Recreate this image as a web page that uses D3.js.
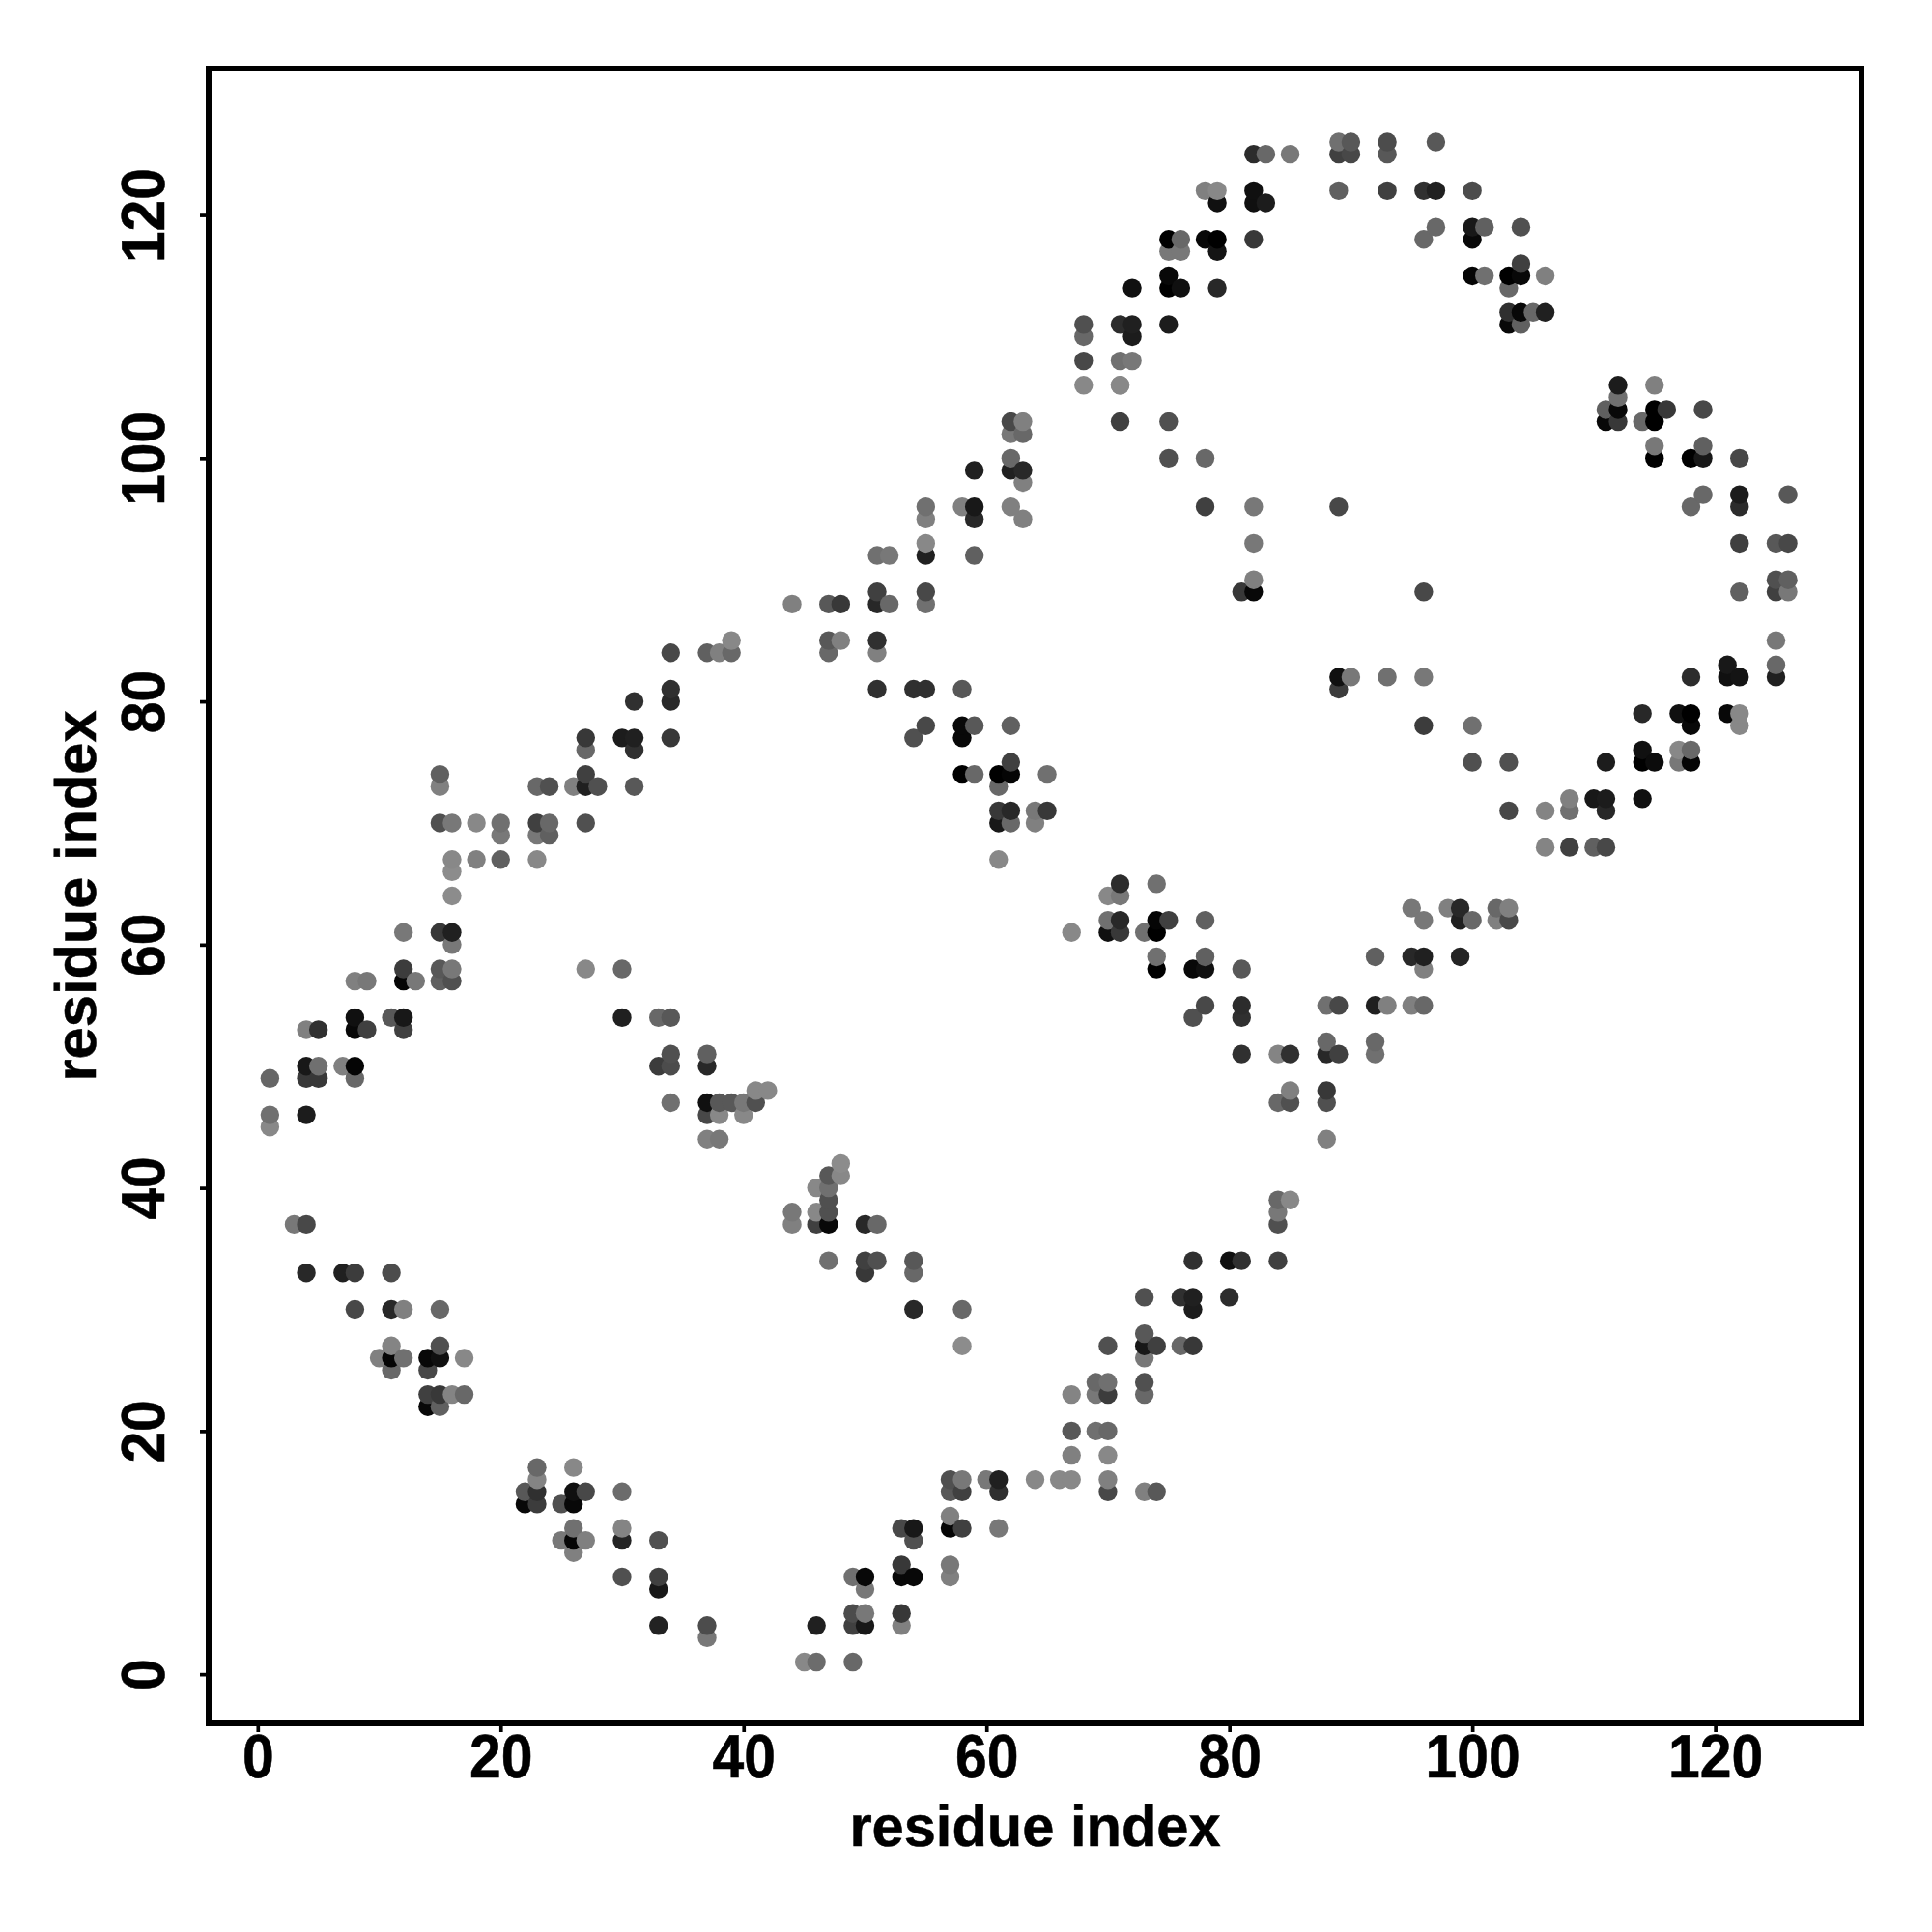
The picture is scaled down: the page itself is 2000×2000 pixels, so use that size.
<!DOCTYPE html>
<html>
<head>
<meta charset="utf-8">
<script src="https://cdnjs.cloudflare.com/ajax/libs/d3/7.8.5/d3.min.js"></script>
<style>html,body{margin:0;padding:0;background:#fff}svg{display:block}</style>
</head>
<body>
<script>
const tickValues = [0, 20, 40, 60, 80, 100, 120];
const axisTitle = "residue index";

const residueI = [
 1,1,1,4,4,4,5,5,7,8,8,
 3,4,4,7,8,11,8,11,12,15,
 11,10,11,12,11,15,14,15,17,14,
 14,15,16,17,14,15,
 23,23,22,23,22,23,
 26,26,27,25,26,
 26,25,26,27,26,
 30,30,30,33,30,33,33,33,37,37,
 33,34,37,34,37,38,39,40,41,41,42,37,38,40,37,38,34,37,
 44,44,46,47,48,48,47,47,46,47,46,47,50,51,
 47,50,51,50,54,54,54,58,58,
 45,46,49,46,49,50,49,50,49,50,50,53,53,
 53,53,54,53,54,54,57,57,57,57,58,61,
 57,58,57,58,60,61,61,64,66,67,70,70,73,74,
 67,70,67,69,70,67,69,70,69,70,73,73,
 70,73,73,74,73,76,77,73,76,77,77,80,
 77,80,81,84,84,84,84,85,
 85,85,84,88,88,88,
 39,34,37,38,39,34,34,31,27,27,30,31,31,34,
 15,15,27,23,24,26,27,28,31,
 15,16,18,20,20,23,24,23,24,27,
 16,16,18,20,23,16,
 12,15,16,16,12,15,16,15,16,8,9,12,13,27,30,
 8,8,9,11,12,12,4,5,30,33,34,
 68,71,62,63,62,63,71,75,75,78,78,82,89,82,82,81,82,
 62,59,62,63,63,55,55,58,59,59,62,63,
 55,55,51,52,59,51,55,44,47,48,51,52,55,
 47,48,51,47,51,51,54,55,58,
 55,54,58,59,58,62,
 58,59,61,62,62,61,65,
 61,62,64,65,61,62,64,61,
 71,74,70,71,70,71,74,75,78,
 67,70,71,73,74,74,74,78,77,78,81,
 78,77,81,81,88,89,81,84,85,88,88,89,89,89,90,
 89,90,89,90,93,93,97,82,83,85,
 78,79,79,82,82,83,89,93,96,97,100,
 97,96,100,101,100,104,
 75,76,75,76,78,79,79,82,
 75,75,76,72,79,100,101,104,103,104,103,106,
 103,104,105,106,103,104,68,68,71,72,72,75,68,71,72,71,
 112,115,112,111,112,115,116,119,111,112,114,115,
 115,119,115,118,119,122,
 119,122,126,118,122,122,125,126,
 96,122,125,126,125,126,125,125,125,
 93,96,118,121,121,122,
 96,100,114,117,118,118,121,122,122,
 100,103,111,114,114,115,117,118,117,118,
 103,106,108,108,110,111,111,114,
 106,108,110,111,
 95,96,98,99,99,100,102,103,102,103,
 92,95,96,96,99,
 92,93,95,96,92,92
];
const residueJ = [
 49,46,45,46,50,49,49,50,50,50,49,
 37,37,33,33,33,33,30,30,30,30,
 27,26,26,26,25,27,26,26,26,25,
 23,23,23,23,22,22,
 17,16,15,15,14,14,
 17,15,15,14,14,
 12,11,11,11,10,
 15,12,11,11,8,8,7,4,4,3,
 50,50,50,47,47,47,47,47,47,48,48,46,46,46,44,44,51,51,
 38,37,40,41,42,41,40,39,38,38,37,37,37,37,
 34,34,34,33,34,33,30,30,27,
 1,1,1,4,5,5,4,4,8,8,7,5,4,
 9,8,8,12,12,11,9,8,13,12,12,12,
 16,16,15,15,16,16,15,16,16,16,16,15,15,15,
 18,18,20,20,20,23,24,24,23,23,24,23,
 27,28,27,27,26,27,27,31,31,31,30,31,
 34,34,34,34,37,38,39,39,
 48,47,47,48,47,44,
 85,84,84,84,84,81,80,80,77,76,77,77,76,77,
 74,73,74,73,73,73,73,73,73,
 70,70,70,70,69,70,70,69,69,70,
 67,66,67,67,67,64,
 61,61,61,60,58,58,58,57,57,57,57,57,57,58,58,
 54,53,53,54,54,53,53,53,54,54,54,
 106,106,103,103,102,102,103,103,100,100,96,96,96,93,90,89,89,
 100,99,99,99,98,96,95,96,96,95,96,95,
 93,92,92,92,92,89,89,88,88,88,88,88,88,
 85,85,85,84,84,81,81,81,81,
 78,77,78,78,77,78,
 74,74,74,74,75,73,74,
 71,71,71,71,70,70,70,67,
 65,65,64,64,62,62,62,62,62,
 61,61,61,61,61,59,58,59,58,58,58,
 55,54,55,54,55,55,51,51,51,52,51,51,82,81,82,
 126,126,125,125,126,125,126,125,125,125,
 122,122,121,122,121,121,122,122,122,122,122,
 119,118,119,119,118,119,
 118,118,117,117,118,118,117,118,
 115,114,114,114,114,115,115,116,115,115,114,115,
 112,112,112,112,111,111,111,110,111,111,110,111,108,108,108,106,
 106,106,105,104,104,104,104,104,103,103,103,103,
 101,101,100,100,100,100,
 97,97,97,96,96,93,93,93,
 89,89,90,90,89,89,85,83,82,
 82,82,82,83,82,82,
 78,78,79,79,79,78,79,79,78,
 75,75,75,76,75,75,76,76,75,75,
 71,71,72,71,72,72,71,72,
 68,68,68,68,
 63,62,63,63,62,62,63,63,62,62,
 59,59,59,58,59,
 55,55,55,55,52,51
];
const grayLevel = [
 0x66,0x70,0x88,0x1c,0x18,0x38,0x38,0x70,0x80,0x05,0x68,
 0x78,0x48,0x28,0x20,0x3c,0x4c,0x48,0x28,0x80,0x68,
 0x84,0x80,0x05,0x70,0x68,0x50,0x08,0x10,0x88,0x48,
 0x40,0x38,0x84,0x68,0x08,0x60,
 0x68,0x84,0x58,0x30,0x08,0x3c,
 0x88,0x10,0x48,0x50,0x08,
 0x70,0x78,0x05,0x80,0x80,
 0x6c,0x84,0x24,0x50,0x50,0x40,0x18,0x22,0x4c,0x78,
 0x3c,0x4c,0x28,0x70,0x10,0x58,0x58,0x78,0x50,0x88,0x88,0x48,0x88,0x88,0x80,0x78,0x50,0x60,
 0x78,0x80,0x88,0x58,0x8c,0x88,0x70,0x50,0x88,0x50,0x40,0x08,0x28,0x68,
 0x70,0x40,0x50,0x38,0x58,0x68,0x28,0x68,0x8c,
 0x88,0x6c,0x68,0x20,0x4c,0x78,0x40,0x18,0x70,0x08,0x78,0x38,0x80,
 0x38,0x08,0x08,0x48,0x18,0x50,0x78,0x80,0x80,0x05,0x40,0x78,
 0x50,0x78,0x58,0x40,0x78,0x20,0x30,0x88,0x88,0x88,0x80,0x48,0x80,0x58,
 0x80,0x88,0x58,0x70,0x68,0x84,0x68,0x70,0x78,0x3c,0x50,0x68,
 0x50,0x58,0x18,0x40,0x78,0x68,0x38,0x50,0x30,0x20,0x1c,0x2c,
 0x30,0x10,0x30,0x40,0x50,0x78,0x68,0x88,
 0x80,0x50,0x68,0x38,0x50,0x80,
 0x88,0x48,0x60,0x80,0x68,0x30,0x28,0x30,0x38,0x68,0x1c,0x20,0x30,0x38,
 0x60,0x80,0x40,0x68,0x50,0x80,0x20,0x50,0x58,
 0x50,0x78,0x88,0x70,0x78,0x40,0x68,0x78,0x60,0x50,
 0x88,0x8c,0x80,0x60,0x88,0x8c,
 0x78,0x38,0x20,0x78,0x3c,0x58,0x78,0x60,0x50,0x80,0x78,0x05,0x78,0x88,0x68,
 0x10,0x08,0x40,0x58,0x18,0x40,0x80,0x30,0x20,0x68,0x58,
 0x88,0x88,0x48,0x80,0x78,0x68,0x40,0x50,0x50,0x68,0x40,0x78,0x48,0x78,0x80,0x38,0x08,
 0x68,0x20,0x20,0x28,0x80,0x70,0x80,0x80,0x18,0x28,0x80,0x80,
 0x88,0x20,0x70,0x78,0x60,0x40,0x48,0x80,0x58,0x38,0x28,0x68,0x70,
 0x58,0x80,0x30,0x68,0x80,0x30,0x30,0x30,0x58,
 0x48,0x50,0x08,0x58,0x08,0x60,
 0x00,0x68,0x00,0x05,0x40,0x68,0x70,
 0x38,0x28,0x78,0x38,0x18,0x68,0x80,0x88,
 0x2c,0x70,0x88,0x78,0x70,0x28,0x05,0x40,0x60,
 0x88,0x10,0x38,0x70,0x00,0x70,0x00,0x60,0x08,0x10,0x58,
 0x48,0x50,0x2c,0x30,0x70,0x48,0x30,0x84,0x30,0x68,0x28,0x40,0x10,0x3c,0x78,
 0x70,0x58,0x40,0x48,0x4c,0x58,0x58,0x2c,0x68,0x78,
 0x80,0x88,0x10,0x10,0x10,0x1c,0x60,0x40,0x30,0x20,0x4c,
 0x68,0x68,0x18,0x60,0x08,0x50,
 0x00,0x68,0x78,0x78,0x08,0x00,0x14,0x38,
 0x08,0x00,0x10,0x10,0x28,0x05,0x70,0x40,0x00,0x08,0x68,0x80,
 0x30,0x08,0x68,0x20,0x08,0x60,0x50,0x68,0x2c,0x20,0x1c,0x1c,0x48,0x70,0x78,0x88,
 0x1c,0x80,0x70,0x60,0x08,0x00,0x38,0x48,0x08,0x38,0x68,0x00,
 0x78,0x60,0x00,0x00,0x18,0x48,
 0x68,0x1c,0x58,0x68,0x2c,0x40,0x58,0x48,
 0x48,0x60,0x50,0x60,0x40,0x78,0x78,0x68,0x20,
 0x70,0x78,0x2c,0x18,0x10,0x14,
 0x3c,0x70,0x28,0x10,0x00,0x08,0x08,0x88,0x88,
 0x50,0x50,0x1c,0x10,0x00,0x0c,0x88,0x68,0x78,0x05,
 0x48,0x84,0x80,0x70,0x18,0x1c,0x28,0x10,
 0x84,0x40,0x60,0x48,
 0x78,0x78,0x80,0x28,0x20,0x68,0x68,0x80,0x80,0x48,
 0x60,0x28,0x20,0x80,0x24,
 0x20,0x80,0x80,0x68,0x68,0x70
];

const frame = {left: 216, right: 1927, top: 71, bottom: 1784};
const domain = [-4.04, 132.04];
const font = '"Liberation Sans", Arial, Helvetica, sans-serif';

const x = d3.scaleLinear().domain(domain).range([frame.left, frame.right]);
const y = d3.scaleLinear().domain(domain).range([frame.bottom, frame.top]);

const svg = d3.select("body").append("svg")
  .attr("width", 2000).attr("height", 2000)
  .style("background", "#fff");

const points = residueI
  .map((v, k) => ({i: v, j: residueJ[k], g: grayLevel[k]}))
  .sort((a, b) => d3.ascending(a.i, b.i) || d3.ascending(a.j, b.j));

svg.append("g").selectAll("circle").data(points).join("circle")
  .attr("cx", d => x(d.i))
  .attr("cy", d => y(d.j))
  .attr("r", 9.7)
  .attr("fill", d => d3.rgb(d.g, d.g, d.g).formatHex());

svg.append("rect")
  .attr("x", frame.left).attr("y", frame.top)
  .attr("width", frame.right - frame.left).attr("height", frame.bottom - frame.top)
  .attr("fill", "none").attr("stroke", "#000").attr("stroke-width", 6);

const xAxis = svg.append("g").attr("transform", `translate(0,${frame.bottom})`)
  .call(d3.axisBottom(x).tickValues(tickValues).tickSize(9).tickPadding(0));
const yAxis = svg.append("g").attr("transform", `translate(${frame.left},0)`)
  .call(d3.axisLeft(y).tickValues(tickValues).tickSize(9).tickPadding(0));

[xAxis, yAxis].forEach(a => {
  a.select(".domain").remove();
  a.selectAll("line").attr("stroke", "#000").attr("stroke-width", 3.7);
  a.selectAll("text").attr("fill", "#000").attr("stroke", "#000").attr("stroke-width", 0.5)
    .attr("x", 0).attr("y", 0).attr("dy", 0).attr("text-anchor", "middle")
    .style("font-family", font).style("font-weight", "bold").style("font-size", "60px")
    .style("text-rendering", "geometricPrecision");
});
xAxis.selectAll("text").attr("transform", "translate(0,56) scale(0.98,1.06)");
yAxis.selectAll("text").attr("transform", "translate(-46,0) rotate(-90) scale(0.98,1.06)");

svg.append("text").text(axisTitle)
  .attr("x", (frame.left + frame.right) / 2).attr("y", 1910.5)
  .attr("text-anchor", "middle").attr("fill", "#000").attr("stroke", "#000").attr("stroke-width", 0.5)
  .style("font-family", font).style("font-weight", "bold").style("font-size", "59.6px")
  .style("text-rendering", "geometricPrecision");
svg.append("text").text(axisTitle)
  .attr("transform", `translate(99,${(frame.top + frame.bottom) / 2}) rotate(-90)`)
  .attr("text-anchor", "middle").attr("fill", "#000").attr("stroke", "#000").attr("stroke-width", 0.5)
  .style("font-family", font).style("font-weight", "bold").style("font-size", "59.6px")
  .style("text-rendering", "geometricPrecision");
</script>
</body>
</html>
